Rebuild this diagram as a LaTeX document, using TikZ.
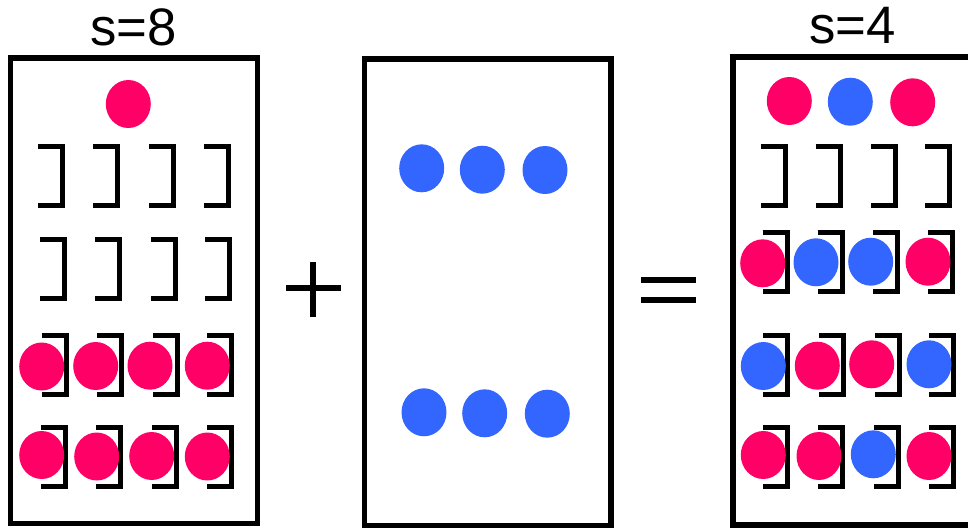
\documentclass[tikz,border=0pt]{standalone}
\usepackage{fontspec}
\setmainfont{Liberation Sans}
\definecolor{dotpink}{HTML}{FF0066}
\definecolor{dotblue}{HTML}{3366FF}
% bracket "]" given by its outer left x and outer top y (pixel units)
\newcommand{\brk}[2]{\draw[brack] (#1,#2+2.5) -- ++(24.5,0) -- ++(0,59) -- ++(-24.5,0);}
\newcommand{\pdot}[2]{\fill[dotpink] (#1,#2) ellipse [x radius=0.45cm, y radius=0.48cm];}
\newcommand{\bdot}[2]{\fill[dotblue] (#1,#2) ellipse [x radius=0.45cm, y radius=0.48cm];}
\begin{document}
\begin{tikzpicture}[x=0.02cm,y=-0.02cm,
  frame/.style={draw=black,line width=0.115cm},
  brack/.style={draw=black,line width=0.1cm,line join=miter},
  sym/.style={draw=black,line width=0.12cm},
  label/.style={anchor=base,inner sep=0pt,font=\fontsize{30}{36}\selectfont}]
\useasboundingbox (0,0) rectangle (968,528);
\begin{scope}
\clip (0,0) rectangle (968,528);
% frames
\draw[frame] (10.5,58) rectangle (257.5,523.5);
\draw[frame] (364.5,59) rectangle (611,525.5);
\draw[frame] (733,57) rectangle (980,525);
% titles
\node[label] (t8) at (133.5,45) {s=8};
\node[label] (t4) at (852.5,43) {s=4};
% plus and equals
\draw[sym] (313,262) -- (313,317);
\draw[sym] (286,288) -- (341,288);
\draw[sym] (641,279.5) -- (696,279.5);
\draw[sym] (641,300) -- (696,300);

% ---- left frame ----
\pdot{128.3}{104}
\brk{38}{144}\brk{93}{144}\brk{149}{144}\brk{204}{144}
\brk{40}{237}\brk{95}{237}\brk{151}{237}\brk{205}{237}
\brk{42}{333}\brk{97}{333}\brk{153}{333}\brk{207}{333}
\brk{41}{425}\brk{96}{425}\brk{152}{425}\brk{207}{425}
\pdot{41.7}{366.5}\pdot{95.7}{366}\pdot{150}{365.7}\pdot{207.3}{365.7}
\pdot{41.7}{455}\pdot{96.7}{456.5}\pdot{151.7}{456}\pdot{207.3}{456.5}

% ---- middle frame ----
\bdot{421.7}{168.3}\bdot{482.3}{169.7}\bdot{545}{170}
\bdot{424}{412.3}\bdot{484.7}{413.3}\bdot{547.3}{413.7}

% ---- right frame ----
\pdot{789.3}{101}\bdot{850.3}{101.7}\pdot{912.7}{102.3}
\brk{760.7}{144}\brk{815.7}{144}\brk{871}{144}\brk{925}{144}
\brk{762.7}{230}\brk{817.7}{230}\brk{873.3}{230}\brk{927.7}{230}
\brk{763.3}{333}\brk{819.3}{333}\brk{875}{333}\brk{929.3}{333}
\brk{763.3}{425}\brk{818.3}{425}\brk{874}{425}\brk{929}{425}
\pdot{762.7}{263.3}\bdot{816}{262.3}\bdot{870.7}{261.7}\pdot{928}{261.7}
\bdot{763.3}{366}\pdot{817.3}{365.7}\pdot{871.7}{364.3}\bdot{929}{364.3}
\pdot{763.3}{455}\pdot{819}{456}\bdot{873.3}{454.3}\pdot{929}{456}
\end{scope}
\end{tikzpicture}
\end{document}
